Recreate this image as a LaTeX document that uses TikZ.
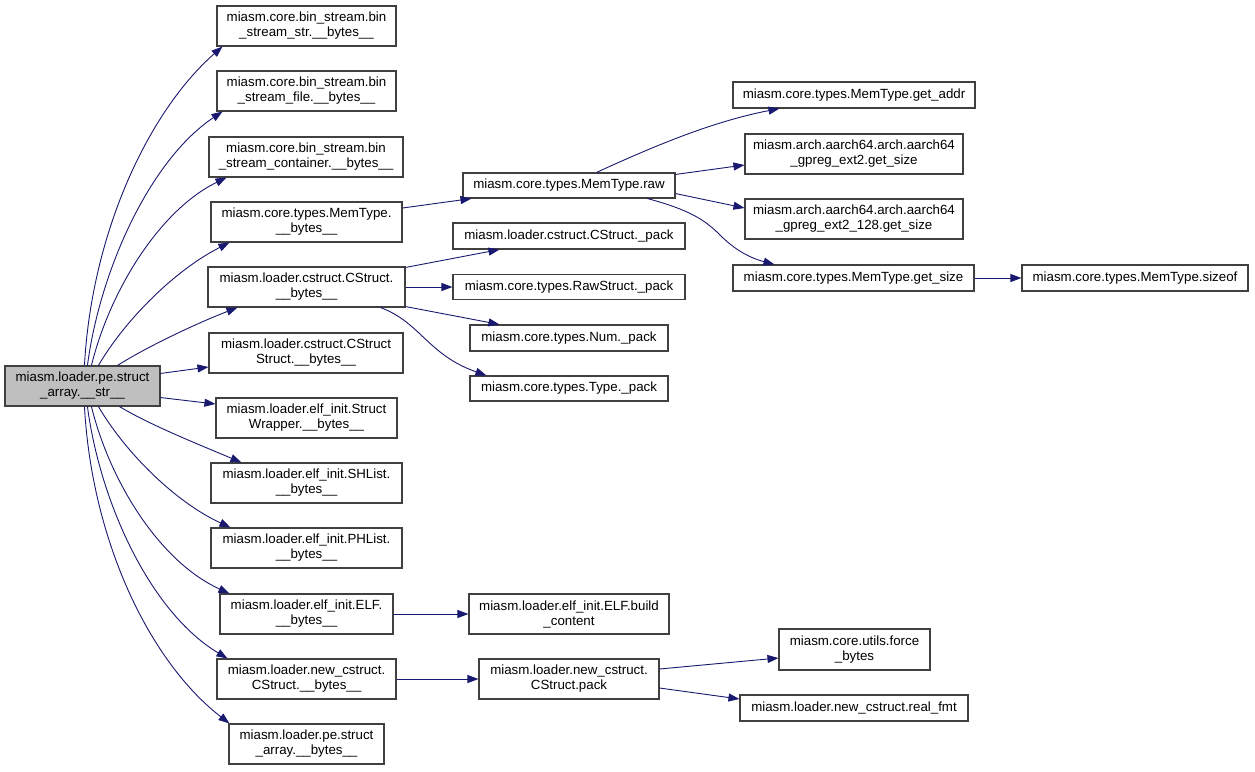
\documentclass[tikz,border=0pt]{standalone}
\usepackage{fontspec}
\setmainfont{Liberation Sans}
\usetikzlibrary{arrows.meta,calc}
\definecolor{edgec}{RGB}{25,25,112}
\definecolor{boxc}{RGB}{64,64,64}
\definecolor{rootfill}{RGB}{191,191,191}
\begin{document}
\begin{tikzpicture}[x=1pt,y=-1pt,
  box/.style={draw=boxc, line width=1.1pt, fill=white, inner sep=0pt, align=center, font=\fontsize{13.3}{15}\selectfont},
  rootbox/.style={box, fill=rootfill},
  edge/.style={draw=edgec, line width=0.9pt, -{Triangle[length=11pt,width=8pt]}},
]
\useasboundingbox (0,0) rectangle (1255,771);
\fill[white] (0,0) rectangle (1255,771);

% root
\node[rootbox, minimum width=155pt, minimum height=40pt] (root) at (82.5,386) {miasm.loader.pe.struct\\\_array.\_\_str\_\_};

% first column
\node[box, minimum width=179pt, minimum height=40pt] (b1) at (306.5,26) {miasm.core.bin\_stream.bin\\\_stream\_str.\_\_bytes\_\_};
\node[box, minimum width=179pt, minimum height=40pt] (b2) at (306.5,91) {miasm.core.bin\_stream.bin\\\_stream\_file.\_\_bytes\_\_};
\node[box, minimum width=194pt, minimum height=40pt] (b3) at (306,157) {miasm.core.bin\_stream.bin\\\_stream\_container.\_\_bytes\_\_};
\node[box, minimum width=191pt, minimum height=40pt] (b4) at (306.5,222) {miasm.core.types.MemType.\\\_\_bytes\_\_};
\node[box, minimum width=197pt, minimum height=40pt] (b5) at (306.5,287) {miasm.loader.cstruct.CStruct.\\\_\_bytes\_\_};
\node[box, minimum width=194pt, minimum height=40pt] (b6) at (306,353) {miasm.loader.cstruct.CStruct\\Struct.\_\_bytes\_\_};
\node[box, minimum width=181pt, minimum height=40pt] (b7) at (306.5,418) {miasm.loader.elf\_init.Struct\\Wrapper.\_\_bytes\_\_};
\node[box, minimum width=191pt, minimum height=40pt] (b8) at (306.5,483) {miasm.loader.elf\_init.SHList.\\\_\_bytes\_\_};
\node[box, minimum width=191pt, minimum height=40pt] (b9) at (306.5,548) {miasm.loader.elf\_init.PHList.\\\_\_bytes\_\_};
\node[box, minimum width=173pt, minimum height=40pt] (b10) at (306.5,614) {miasm.loader.elf\_init.ELF.\\\_\_bytes\_\_};
\node[box, minimum width=179pt, minimum height=40pt] (b11) at (306.5,679) {miasm.loader.new\_cstruct.\\CStruct.\_\_bytes\_\_};
\node[box, minimum width=155pt, minimum height=40pt] (b12) at (306.5,744) {miasm.loader.pe.struct\\\_array.\_\_bytes\_\_};

% second column
\node[box, minimum width=212pt, minimum height=25pt] (raw) at (569,185.5) {miasm.core.types.MemType.raw};
\node[box, minimum width=232pt, minimum height=26pt] (cpack) at (569,236) {miasm.loader.cstruct.CStruct.\_pack};
\node[box, minimum width=232pt, minimum height=25pt] (rpack) at (569,287) {miasm.core.types.RawStruct.\_pack};
\node[box, minimum width=198pt, minimum height=26pt] (npack) at (569,338) {miasm.core.types.Num.\_pack};
\node[box, minimum width=198pt, minimum height=25pt] (tpack) at (569,388.5) {miasm.core.types.Type.\_pack};
\node[box, minimum width=200pt, minimum height=40pt] (build) at (569,614) {miasm.loader.elf\_init.ELF.build\\\_content};
\node[box, minimum width=180pt, minimum height=40pt] (cspack) at (569,679) {miasm.loader.new\_cstruct.\\CStruct.pack};

% third column
\node[box, minimum width=242pt, minimum height=26pt] (getaddr) at (854,95) {miasm.core.types.MemType.get\_addr};
\node[box, minimum width=218pt, minimum height=40pt] (ext2) at (854,154) {miasm.arch.aarch64.arch.aarch64\\\_gpreg\_ext2.get\_size};
\node[box, minimum width=218pt, minimum height=40pt] (ext128) at (854,219) {miasm.arch.aarch64.arch.aarch64\\\_gpreg\_ext2\_128.get\_size};
\node[box, minimum width=241pt, minimum height=26pt] (getsize) at (853.5,278) {miasm.core.types.MemType.get\_size};
\node[box, minimum width=151pt, minimum height=41pt] (force) at (854.5,649.5) {miasm.core.utils.force\\\_bytes};
\node[box, minimum width=228pt, minimum height=26pt] (realfmt) at (854,708) {miasm.loader.new\_cstruct.real\_fmt};

% fourth column
\node[box, minimum width=226pt, minimum height=26pt] (sizeof) at (1135,278) {miasm.core.types.MemType.sizeof};

% edges from root
\draw[edge] ($(root.north west)+(80,0)$) .. controls (92,230) and (150,110) .. ($(b1.south west)+(6,0)$);
\draw[edge] ($(root.north west)+(83,0)$) .. controls (100,270) and (150,160) .. ($(b2.south west)+(6,0)$);
\draw[edge] ($(root.north west)+(87,0)$) .. controls (110,290) and (160,210) .. ($(b3.south west)+(18,0)$);
\draw[edge] ($(root.north west)+(94,0)$) .. controls (125,320) and (175,270) .. ($(b4.south west)+(19,0)$);
\draw[edge] ($(root.north west)+(113,0)$) .. controls (150,345) and (200,322) .. ($(b5.south west)+(30,0)$);
\draw[edge] ($(root.north east)+(0,8)$) -- ($(b6.west)+(0,14)$);
\draw[edge] ($(root.south east)+(0,-9)$) -- ($(b7.west)+(0,-14)$);
\draw[edge] ($(root.south west)+(115,0)$) .. controls (150,425) and (200,445) .. ($(b8.north west)+(31,0)$);
\draw[edge] ($(root.south west)+(94,0)$) .. controls (125,452) and (175,502) .. ($(b9.north west)+(20,0)$);
\draw[edge] ($(root.south west)+(87,0)$) .. controls (110,482) and (160,562) .. ($(b10.north west)+(10,0)$);
\draw[edge] ($(root.south west)+(83,0)$) .. controls (100,502) and (150,612) .. ($(b11.north west)+(11,0)$);
\draw[edge] ($(root.south west)+(80,0)$) .. controls (92,542) and (150,662) .. ($(b12.north west)+(1,0)$);

% second level
\draw[edge] ($(b4.east)+(0,-14)$) -- ($(raw.south west)+(9,0)$);
\draw[edge] ($(b5.north east)+(0,1)$) -- ($(cpack.south west)+(47,0)$);
\draw[edge] (b5.east) -- (rpack.west);
\draw[edge] ($(b5.south east)+(0,-1)$) -- ($(npack.north west)+(30,0)$);
\draw[edge] ($(b5.south west)+(173,0)$) .. controls (420,322) and (428,355) .. ($(tpack.north west)+(17,0)$);
\draw[edge] (b10.east) -- (build.west);
\draw[edge] (b11.east) -- (cspack.west);

% third level
\draw[edge] ($(raw.north west)+(134,0)$) .. controls (650,148) and (710,122) .. ($(getaddr.south west)+(47,0)$);
\draw[edge] ($(raw.north east)+(0,2)$) -- ($(ext2.west)+(0,11)$);
\draw[edge] ($(raw.south east)+(0,-5)$) -- ($(ext128.west)+(0,-11)$);
\draw[edge] ($(raw.south west)+(185,0)$) .. controls (690,210) and (705,220) .. (720,235) .. controls (735,250) and (750,258) .. ($(getsize.north west)+(42,0)$);
\draw[edge] (getsize.east) -- (sizeof.west);
\draw[edge] ($(cspack.east)+(0,-10)$) -- ($(force.west)+(0,8.5)$);
\draw[edge] ($(cspack.east)+(0,9)$) -- ($(realfmt.west)+(0,-9)$);
\end{tikzpicture}
\end{document}
